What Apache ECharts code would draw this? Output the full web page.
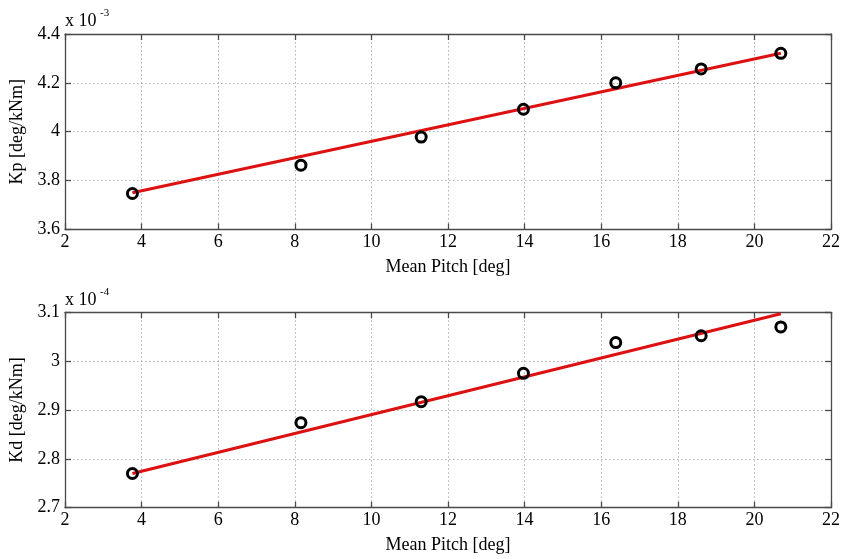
<!DOCTYPE html>
<html>
<head>
<meta charset="utf-8">
<script src="https://cdn.jsdelivr.net/npm/echarts@6/dist/echarts.min.js"></script>
<style>
html,body{margin:0;padding:0;background:#fff;}
#chart{width:843px;height:559px;}
</style>
</head>
<body>
<div id="chart"></div>
<script>
// Data (values in display units: Kp x 1e-3, Kd x 1e-4)
const meanPitch = [3.76, 8.16, 11.30, 13.97, 16.38, 18.61, 20.69];
const kpValues = [3.747, 3.863, 3.978, 4.092, 4.200, 4.257, 4.321];
const kdValues = [2.770, 2.874, 2.917, 2.975, 3.038, 3.052, 3.070];
const fitPitch = [3.76, 20.69];
const kpFit = [3.750, 4.321];
const kdFit = [2.770, 3.097];
const xTicks = [2, 4, 6, 8, 10, 12, 14, 16, 18, 20, 22];
const kpTicks = [3.6, 3.8, 4.0, 4.2, 4.4];
const kdTicks = [2.7, 2.8, 2.9, 3.0, 3.1];

const FONT = 'Liberation Serif';
const AX = '#4a4a4a';
const GRID = '#b0b0b0';
const FS = 18;

function pairs(xs, ys){ return xs.map((x,i)=>[x, ys[i]]); }

function xAxes(gi){
  return [
    {
      gridIndex: gi, type: 'value', position: 'bottom',
      min: xTicks[0], max: xTicks[xTicks.length-1], interval: xTicks[1]-xTicks[0],
      name: 'Mean Pitch [deg]', nameLocation: 'middle', nameGap: 29,
      nameTextStyle: {fontFamily: FONT, fontSize: FS, color: '#000'},
      axisLine: {show: true, onZero: false, lineStyle: {color: AX, width: 1.3}},
      axisTick: {show: true, inside: true, length: 6, lineStyle: {color: AX, width: 1.3}},
      axisLabel: {fontFamily: FONT, fontSize: FS, color: '#000', margin: 4},
      splitLine: {show: true, lineStyle: {color: GRID, type: [1.5, 2.5], width: 1}}
    },
    {
      gridIndex: gi, type: 'value', position: 'top',
      min: xTicks[0], max: xTicks[xTicks.length-1], interval: xTicks[1]-xTicks[0],
      axisLine: {show: true, onZero: false, lineStyle: {color: AX, width: 1.3}},
      axisTick: {show: true, inside: true, length: 6, lineStyle: {color: AX, width: 1.3}},
      axisLabel: {show: false},
      splitLine: {show: false}
    }
  ];
}

function yAxes(gi, ticks, name){
  const iv = +(ticks[1]-ticks[0]).toFixed(4);
  return [
    {
      gridIndex: gi, type: 'value', position: 'left',
      min: ticks[0], max: ticks[ticks.length-1], interval: iv,
      name: name, nameLocation: 'middle', nameGap: 35, nameRotate: 90,
      nameTextStyle: {fontFamily: FONT, fontSize: FS, color: '#000'},
      axisLine: {show: true, onZero: false, lineStyle: {color: AX, width: 1.3}},
      axisTick: {show: true, inside: true, length: 6, lineStyle: {color: AX, width: 1.3}},
      axisLabel: {fontFamily: FONT, fontSize: FS, color: '#000', margin: 5,
        formatter: v => String(+v.toFixed(2))},
      splitLine: {show: true, lineStyle: {color: GRID, type: [1.5, 2.5], width: 1}}
    },
    {
      gridIndex: gi, type: 'value', position: 'right',
      min: ticks[0], max: ticks[ticks.length-1], interval: iv,
      axisLine: {show: true, onZero: false, lineStyle: {color: AX, width: 1.3}},
      axisTick: {show: true, inside: true, length: 6, lineStyle: {color: AX, width: 1.3}},
      axisLabel: {show: false},
      splitLine: {show: false}
    }
  ];
}

const chart = echarts.init(document.getElementById('chart'), null, {renderer: 'canvas'});
chart.setOption({
  backgroundColor: '#fff',
  animation: false,
  grid: [
    {left: 65, right: 10.5, top: 34, height: 195.4},
    {left: 65, right: 10.5, top: 312.3, height: 195.4}
  ],
  xAxis: [...xAxes(0), ...xAxes(1)],
  yAxis: [...yAxes(0, kpTicks, 'Kp [deg/kNm]'), ...yAxes(1, kdTicks, 'Kd [deg/kNm]')],
  graphic: [
    {type: 'text', left: 65, top: 12, style: {text: 'x 10', font: `${FS}px "${FONT}"`, fill: '#000'}},
    {type: 'text', left: 100, top: 8, style: {text: '-3', font: `11px "${FONT}"`, fill: '#000'}},
    {type: 'text', left: 65, top: 291, style: {text: 'x 10', font: `${FS}px "${FONT}"`, fill: '#000'}},
    {type: 'text', left: 100, top: 287, style: {text: '-4', font: `11px "${FONT}"`, fill: '#000'}}
  ],
  series: [
    {type: 'line', xAxisIndex: 0, yAxisIndex: 0, data: pairs(fitPitch, kpFit),
      symbol: 'none', lineStyle: {color: '#dd1111', width: 3}, z: 2},
    {type: 'scatter', xAxisIndex: 0, yAxisIndex: 0, data: pairs(meanPitch, kpValues),
      symbol: 'circle', symbolSize: 10,
      itemStyle: {color: 'rgba(255,255,255,0)', borderColor: '#000', borderWidth: 3, opacity: 1}, z: 3},
    {type: 'line', xAxisIndex: 2, yAxisIndex: 2, data: pairs(fitPitch, kdFit),
      symbol: 'none', lineStyle: {color: '#dd1111', width: 3}, z: 2},
    {type: 'scatter', xAxisIndex: 2, yAxisIndex: 2, data: pairs(meanPitch, kdValues),
      symbol: 'circle', symbolSize: 10,
      itemStyle: {color: 'rgba(255,255,255,0)', borderColor: '#000', borderWidth: 3, opacity: 1}, z: 3}
  ]
});
</script>
</body>
</html>
